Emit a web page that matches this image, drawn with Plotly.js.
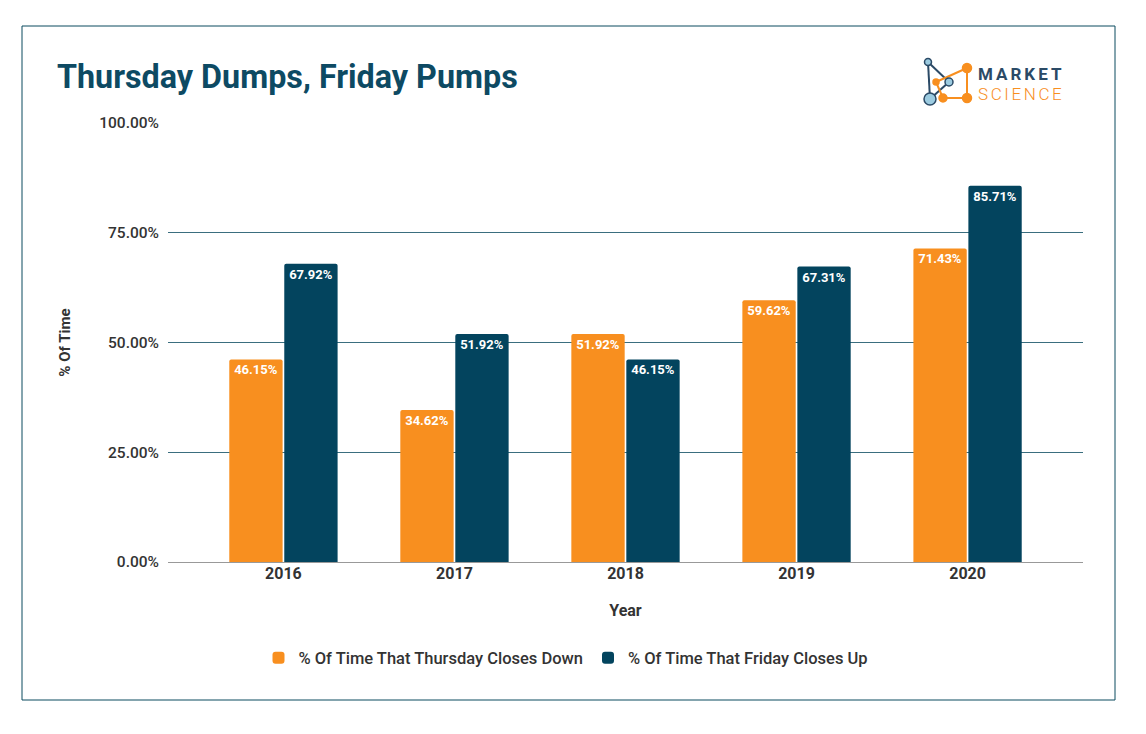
<!DOCTYPE html>
<html>
<head>
<meta charset="utf-8">
<script src="https://cdn.plot.ly/plotly-3.0.1.min.js"></script>
<style>html,body{margin:0;padding:0;background:#fff;}#chart{width:1146px;height:734px;}</style>
</head>
<body>
<div id="chart"></div>
<script>
const years = ['2016', '2017', '2018', '2019', '2020'];
const thursdayDown = [46.15, 34.62, 51.92, 59.62, 71.43];
const fridayUp = [67.92, 51.92, 46.15, 67.31, 85.71];
const seriesNames = ['% Of Time That Thursday Closes Down', '% Of Time That Friday Closes Up'];
const yTicks = [0, 25, 50, 75, 100];
const yTickLabels = ['0.00%', '25.00%', '50.00%', '75.00%', '100.00%'];

const W = 1146, H = 734;
const L = 168, R = 63, T = 123, B = 172;
const PW = W - L - R, PH = H - T - B;
const px = X => (X - L) / PW;
const py = Y => (H - B - Y) / PH;

const ORANGE = '#f88f1f';
const NAVY = '#03445e';
const LIGHTBLUE = '#9ccbe0';
const LOGONAVY = '#2b4a66';

function line(x0, y0, x1, y1, color, w) {
  return {type: 'line', xref: 'paper', yref: 'paper', x0: px(x0), y0: py(y0), x1: px(x1), y1: py(y1),
    line: {color: color, width: w}, layer: 'above'};
}
function circ(cx, cy, r, fill, stroke) {
  return {type: 'circle', xref: 'paper', yref: 'paper', x0: px(cx - r), x1: px(cx + r), y0: py(cy + r), y1: py(cy - r),
    fillcolor: fill, line: {color: stroke || fill, width: 1.5}, layer: 'above'};
}

const shapes = [
  {type: 'rect', xref: 'paper', yref: 'paper', x0: px(22), x1: px(1115), y0: py(700), y1: py(26),
    line: {color: '#0b4a5e', width: 1}, fillcolor: 'rgba(0,0,0,0)', layer: 'below'},
  line(928, 62, 949, 82, LOGONAVY, 2),
  line(928, 62, 930, 99, LOGONAVY, 2),
  line(949, 82, 930, 99, LOGONAVY, 2),
  line(936, 82, 967, 68, ORANGE, 2),
  line(967, 68, 967, 98, ORANGE, 2),
  line(967, 98, 943, 98, ORANGE, 2),
  line(943, 98, 936, 82, ORANGE, 2),
  circ(928, 62, 3.5, LIGHTBLUE, LOGONAVY),
  circ(949, 82, 4, LIGHTBLUE, LOGONAVY),
  circ(930, 99, 6, LIGHTBLUE, LOGONAVY),
  circ(936, 82, 3, ORANGE),
  circ(967, 68, 4.5, ORANGE),
  circ(967, 98, 4.5, ORANGE),
  circ(943, 98, 4, ORANGE)
];

const annotations = [
  {xref: 'paper', yref: 'paper', x: px(977), y: py(84), xanchor: 'left', yanchor: 'middle', showarrow: false,
    align: 'left', borderpad: 0,
    text: '<span style="font-size:17px;font-weight:700;letter-spacing:3px;fill:' + LOGONAVY + '">MARKET</span><br>' +
          '<span style="font-size:17px;font-weight:300;letter-spacing:2.6px;fill:' + ORANGE + '">SCIENCE</span>',
    font: {family: 'Roboto', size: 15.5, color: LOGONAVY}}
];

const common = {
  type: 'bar', x: years, textposition: 'inside', insidetextanchor: 'end',
  texttemplate: '%{y:.2f}%', constraintext: 'none',
  textfont: {family: 'Roboto', size: 13, color: '#ffffff', weight: 700},
  hoverinfo: 'skip'
};

const data = [
  Object.assign({}, common, {name: seriesNames[0], y: thursdayDown, marker: {color: ORANGE}}),
  Object.assign({}, common, {name: seriesNames[1], y: fridayUp, marker: {color: NAVY}})
];

const layout = {
  width: W, height: H,
  margin: {l: L, r: R, t: T, b: B, pad: 0},
  paper_bgcolor: '#ffffff', plot_bgcolor: '#ffffff',
  font: {family: 'Roboto', color: '#333333'},
  title: {text: 'Thursday Dumps, Friday Pumps', xref: 'container', yref: 'container',
    x: 57 / W, xanchor: 'left', y: 1 - 77 / H, yanchor: 'middle',
    font: {family: 'Roboto', size: 32.3, color: '#0d4a63', weight: 700}},
  barmode: 'group', bargap: 0.357, bargroupgap: 0.03, barcornerradius: 2,
  showlegend: true,
  legend: {orientation: 'h', x: px(566), xanchor: 'center', y: py(658), yanchor: 'middle',
    font: {family: 'Roboto', size: 16.5, color: '#333333', weight: 500}, traceorder: 'normal'},
  xaxis: {type: 'category', range: [-0.675, 4.675], showgrid: false, zeroline: false, showline: false,
    ticks: '', tickfont: {family: 'Roboto', size: 16, color: '#333333', weight: 700},
    title: {text: 'Year', standoff: 22, font: {family: 'Roboto', size: 16, color: '#333333', weight: 700}}},
  yaxis: {range: [0, 100], tickmode: 'array', tickvals: yTicks, ticktext: yTickLabels,
    showgrid: true, gridcolor: '#3a6e7f', gridwidth: 1, zeroline: true, zerolinecolor: '#999999', zerolinewidth: 1,
    showline: false, ticks: '', ticklabelstandoff: 8,
    tickfont: {family: 'Roboto', size: 15.5, color: '#333333', weight: 500},
    title: {text: '% Of Time', standoff: 24, font: {family: 'Roboto', size: 15, color: '#333333', weight: 700}}},
  shapes: shapes,
  annotations: annotations,
  hovermode: false
};

Plotly.newPlot('chart', data, layout, {staticPlot: true, displayModeBar: false});
</script>
</body>
</html>
